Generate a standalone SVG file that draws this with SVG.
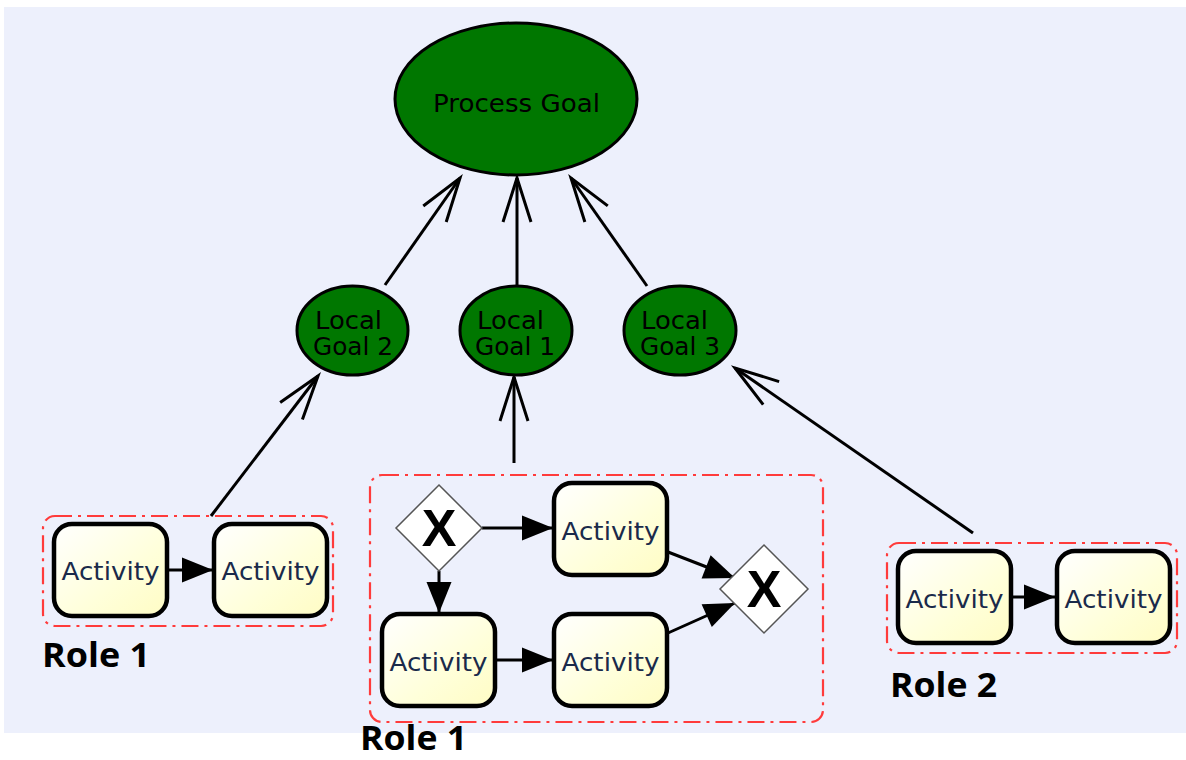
<svg xmlns="http://www.w3.org/2000/svg" width="1186" height="760" viewBox="0 0 1186 760">
<defs>
<linearGradient id="actg" x1="0" y1="0" x2="1" y2="1">
<stop offset="0" stop-color="#FFFFFF"/>
<stop offset="0.6" stop-color="#FFFFDA"/>
<stop offset="1" stop-color="#FFFCC4"/>
</linearGradient>
<marker id="open" markerUnits="userSpaceOnUse" markerWidth="60" markerHeight="40" viewBox="-50 -20 60 40" refX="0" refY="0" orient="auto">
<path d="M-44,-14 L0,0 L-44,14" fill="none" stroke="#000" stroke-width="3" stroke-linejoin="miter"/>
</marker>
<marker id="fill" markerUnits="userSpaceOnUse" markerWidth="40" markerHeight="30" viewBox="-35 -15 40 30" refX="0" refY="0" orient="auto">
<path d="M-31,-12.5 L0,0 L-31,12.5 Z" fill="#000"/>
</marker>
<style>
.goal{fill:#007700;stroke:#000;stroke-width:3}
.gt{font-family:"DejaVu Sans",sans-serif;font-size:24px;fill:#000}
.act{fill:url(#actg);stroke:#000;stroke-width:4.5}
.at{font-family:"DejaVu Sans",sans-serif;font-size:25px;fill:#1a2a4a;text-anchor:middle}
.role{fill:none;stroke:#FF3B3B;stroke-width:2.2;stroke-dasharray:17 6 3 6}
.rl{font-family:"Open Sans","Liberation Sans",sans-serif;font-weight:bold;font-size:34px;fill:#000}
.gw{fill:#fff;stroke:#555;stroke-width:1.5}
.gx{font-family:"Liberation Sans",sans-serif;font-weight:bold;font-size:52px;fill:#000;text-anchor:middle}
.c{fill:none;stroke:#000;stroke-width:3}
</style>
</defs>
<rect x="0" y="0" width="1186" height="760" fill="#fff"/>
<rect x="4" y="7" width="1182" height="726" fill="#EDF0FC"/>

<g id="roles">
<rect id="role1-left" class="role" x="43" y="516" width="290" height="110" rx="12"/>
<rect id="role1-mid" class="role" x="370" y="475" width="453" height="247" rx="12"/>
<rect id="role2" class="role" x="887" y="543" width="290" height="110" rx="12"/>
</g>

<g id="connectors">
<line class="c" x1="385" y1="285" x2="460" y2="178" marker-end="url(#open)"/>
<line class="c" x1="517" y1="286" x2="517" y2="178" marker-end="url(#open)"/>
<line class="c" x1="647" y1="286" x2="571" y2="178" marker-end="url(#open)"/>
<line class="c" x1="211" y1="516" x2="318" y2="376" marker-end="url(#open)"/>
<line class="c" x1="514" y1="463" x2="514" y2="377" marker-end="url(#open)"/>
<line class="c" x1="973" y1="533" x2="735" y2="368" marker-end="url(#open)"/>
<line class="c" x1="168" y1="570" x2="213" y2="570" marker-end="url(#fill)"/>
<line class="c" x1="482" y1="528" x2="553" y2="528" marker-end="url(#fill)"/>
<line class="c" x1="439" y1="571" x2="439" y2="613" marker-end="url(#fill)"/>
<line class="c" x1="496" y1="660" x2="553" y2="660" marker-end="url(#fill)"/>
<line class="c" x1="668" y1="552" x2="735" y2="578" marker-end="url(#fill)"/>
<line class="c" x1="668" y1="633" x2="735" y2="603" marker-end="url(#fill)"/>
<line class="c" x1="1012" y1="597" x2="1055" y2="597" marker-end="url(#fill)"/>
</g>

<g id="process-goal">
<ellipse class="goal" cx="516" cy="99" rx="121" ry="76"/>
<text class="gt" x="433" y="112" font-size="25" textLength="167" lengthAdjust="spacingAndGlyphs">Process Goal</text>
</g>
<g id="local-goal-2">
<ellipse class="goal" cx="352.5" cy="330.5" rx="55.5" ry="44.5"/>
<text class="gt" x="315" y="329" textLength="67" lengthAdjust="spacingAndGlyphs">Local</text>
<text class="gt" x="313" y="355" textLength="80" lengthAdjust="spacingAndGlyphs">Goal 2</text>
</g>
<g id="local-goal-1">
<ellipse class="goal" cx="516" cy="330.5" rx="56" ry="44.5"/>
<text class="gt" x="477" y="329" textLength="67" lengthAdjust="spacingAndGlyphs">Local</text>
<text class="gt" x="475" y="355" textLength="80" lengthAdjust="spacingAndGlyphs">Goal 1</text>
</g>
<g id="local-goal-3">
<ellipse class="goal" cx="680" cy="330.5" rx="56" ry="44.5"/>
<text class="gt" x="641" y="329" textLength="67" lengthAdjust="spacingAndGlyphs">Local</text>
<text class="gt" x="640" y="355" textLength="80" lengthAdjust="spacingAndGlyphs">Goal 3</text>
</g>

<g id="act-l1">
<rect class="act" x="54" y="524" width="113" height="92" rx="18"/>
<text class="at" x="110.5" y="580" textLength="98" lengthAdjust="spacingAndGlyphs">Activity</text>
</g>
<g id="act-l2">
<rect class="act" x="214" y="524" width="113" height="92" rx="18"/>
<text class="at" x="270.5" y="580" textLength="98" lengthAdjust="spacingAndGlyphs">Activity</text>
</g>
<g id="gw-split">
<polygon class="gw" points="439,485 482,528 439,571 396,528"/>
<text class="gx" x="439" y="546">X</text>
</g>
<g id="act-m-top">
<rect class="act" x="554" y="483" width="113" height="92" rx="18"/>
<text class="at" x="610.5" y="540" textLength="98" lengthAdjust="spacingAndGlyphs">Activity</text>
</g>
<g id="act-m-bl">
<rect class="act" x="382" y="614" width="113" height="92" rx="18"/>
<text class="at" x="438.5" y="671" textLength="98" lengthAdjust="spacingAndGlyphs">Activity</text>
</g>
<g id="act-m-br">
<rect class="act" x="554" y="614" width="113" height="92" rx="18"/>
<text class="at" x="610.5" y="671" textLength="98" lengthAdjust="spacingAndGlyphs">Activity</text>
</g>
<g id="gw-join">
<polygon class="gw" points="764,545 808,589 764,633 720,589"/>
<text class="gx" x="764" y="607">X</text>
</g>
<g id="act-r1">
<rect class="act" x="898" y="551" width="113" height="92" rx="18"/>
<text class="at" x="954.5" y="608" textLength="98" lengthAdjust="spacingAndGlyphs">Activity</text>
</g>
<g id="act-r2">
<rect class="act" x="1057" y="551" width="113" height="92" rx="18"/>
<text class="at" x="1113.5" y="608" textLength="98" lengthAdjust="spacingAndGlyphs">Activity</text>
</g>

<g id="labels">
<text class="rl" x="42" y="667" textLength="108" lengthAdjust="spacingAndGlyphs">Role 1</text>
<text class="rl" x="360" y="750" font-size="32" textLength="107" lengthAdjust="spacingAndGlyphs">Role 1</text>
<text class="rl" x="890" y="697" textLength="107" lengthAdjust="spacingAndGlyphs">Role 2</text>
</g>
</svg>
